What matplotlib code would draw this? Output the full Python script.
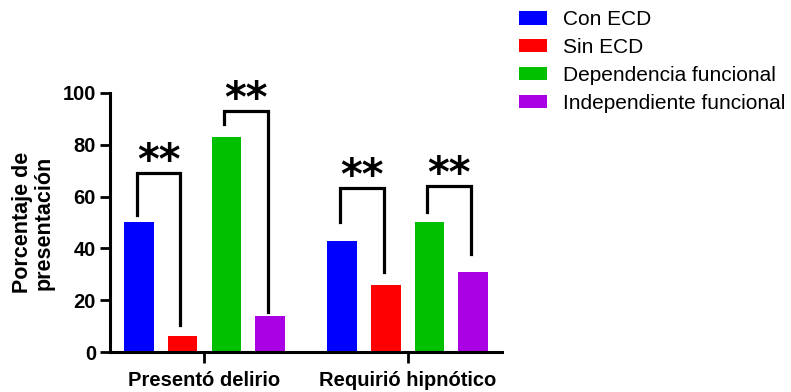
import matplotlib
matplotlib.use('Agg')
import matplotlib.pyplot as plt
import numpy as np
from matplotlib.patches import Patch

plt.rcParams['font.family'] = ['Liberation Sans', 'DejaVu Sans']

# porcentajes por grupo
categorias = ['Presentó delirio', 'Requirió hipnótico']
series = ['Con ECD', 'Sin ECD', 'Dependencia funcional', 'Independiente funcional']
con_ecd = [50, 43]
sin_ecd = [6, 26]
dependencia = [83, 50]
independiente = [14, 31]
colores = ['#0000FF', '#FF0000', '#00C000', '#AA00E4']

# corchetes de significancia: (grupo, barra izq, barra der, pata izq, techo, pata der)
corchetes = [
    (0, 0, 1, 53, 69, 10.5),
    (0, 2, 3, 88, 93, 15.5),
    (1, 0, 1, 50, 63.5, 31),
    (1, 2, 3, 54, 64, 38),
]
marca = '**'

valores = [con_ecd, sin_ecd, dependencia, independiente]
desplaz_grupo = 4.65
ancho = 0.675

fig = plt.figure(figsize=(7.91, 3.92), dpi=100)
ax = fig.add_axes([0.139, 0.102, 0.4956, 0.6608])

def posicion(g, b):
    return g * desplaz_grupo + b

for b, (vals, col, nombre) in enumerate(zip(valores, colores, series)):
    xs = [posicion(g, b) for g in range(len(categorias))]
    ax.bar(xs, vals, width=ancho, color=col, label=nombre)

for g, b1, b2, y1, ytop, y2 in corchetes:
    x1 = posicion(g, b1) - 0.05
    x2 = posicion(g, b2) - 0.05
    ax.plot([x1, x1, x2, x2], [y1, ytop, ytop, y2], color='black', lw=2.3,
            solid_joinstyle='miter', clip_on=False)
    ax.text((x1 + x2) / 2, ytop - 0.4, marca, ha='center', va='baseline',
            fontsize=30, fontweight='bold', family='DejaVu Sans', clip_on=False)

ax.set_xlim(-0.664, 8.31)
ax.set_ylim(0, 100)
ax.set_yticks([0, 20, 40, 60, 80, 100])
ax.set_xticks([posicion(g, 1.5) for g in range(len(categorias))])
ax.set_xticklabels(categorias, fontsize=14.5, fontweight='bold')
for lab in ax.get_yticklabels():
    lab.set_fontweight('bold')
    lab.set_fontsize(14.5)
ax.tick_params(axis='both', width=2, length=7, direction='out', pad=3)
ax.tick_params(axis='x', length=8, pad=6)
ax.set_ylabel('Porcentaje de\npresentación', fontsize=15.5, fontweight='bold',
              linespacing=1.0, labelpad=6)
ax.spines['top'].set_visible(False)
ax.spines['right'].set_visible(False)
ax.spines['left'].set_linewidth(2.2)
ax.spines['bottom'].set_linewidth(2.2)

handles = [Patch(facecolor=c, label=s) for c, s in zip(colores, series)]
fig.legend(handles=handles, loc='upper left', bbox_to_anchor=(0.645, 0.995),
           frameon=False, fontsize=15, handlelength=1.35, handleheight=0.6,
           handletextpad=0.8, labelspacing=0.42, borderaxespad=0.0)

fig.savefig('out.png', dpi=100)
